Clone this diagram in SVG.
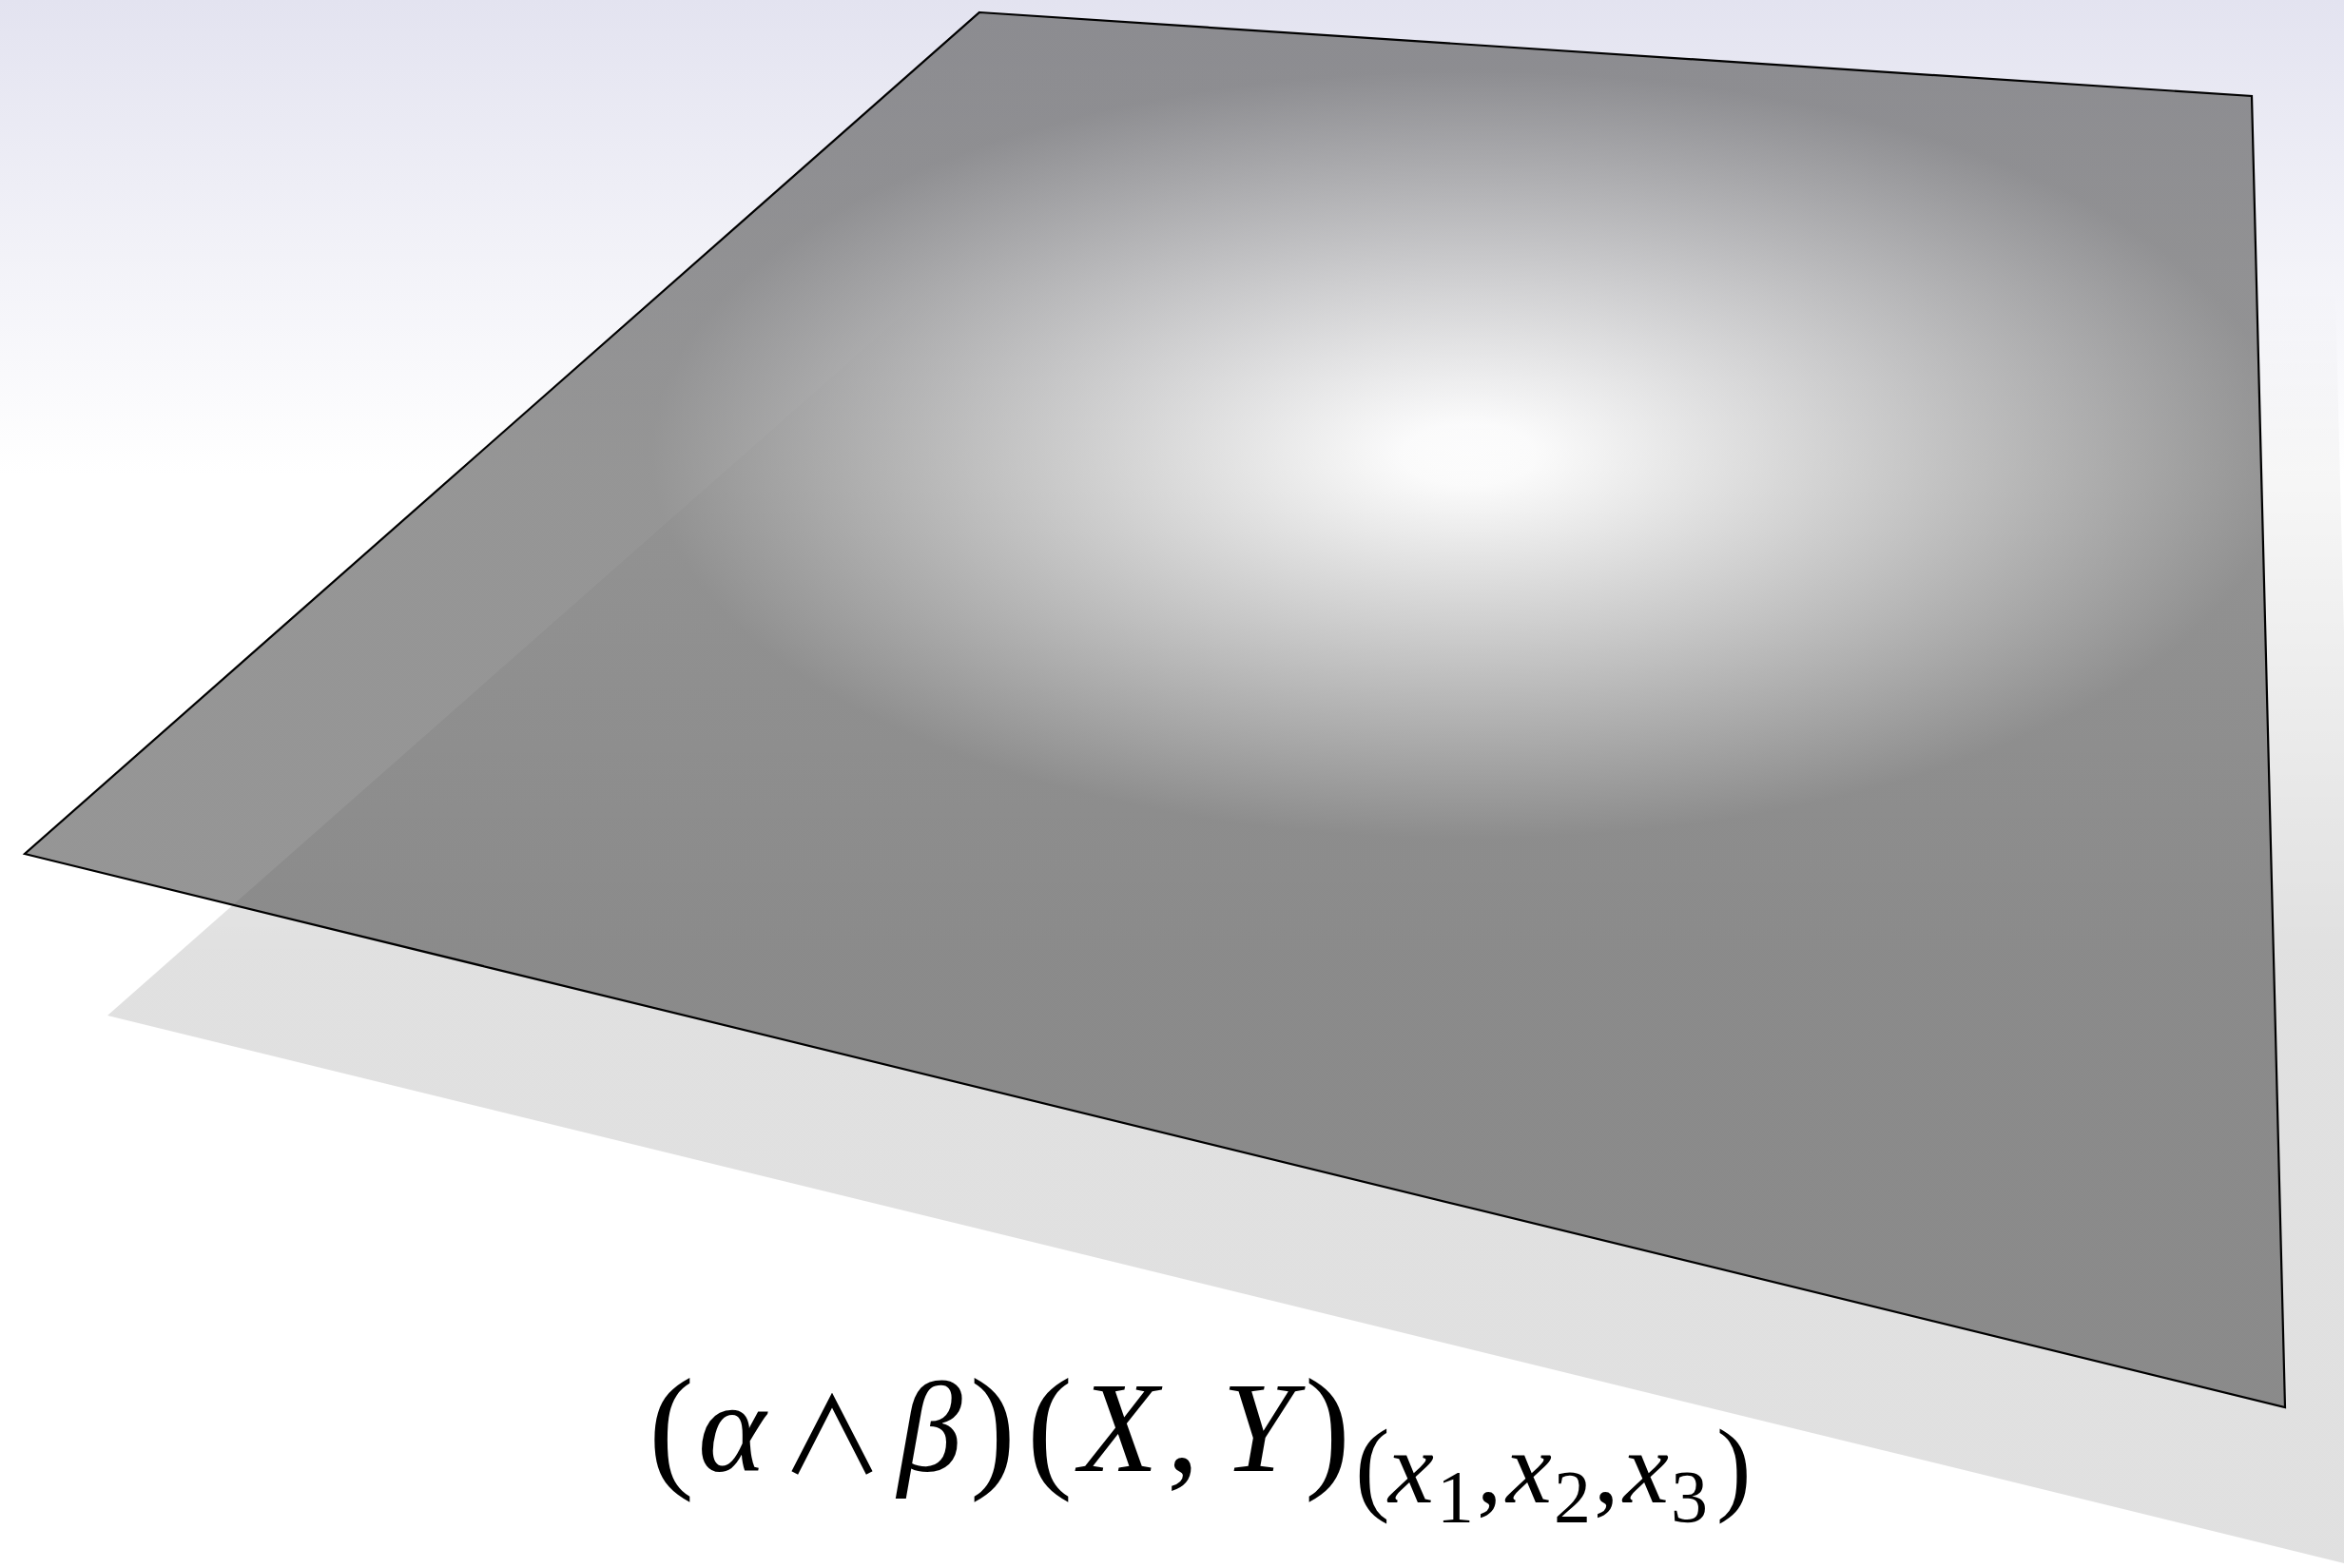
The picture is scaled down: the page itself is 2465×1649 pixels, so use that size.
<svg xmlns="http://www.w3.org/2000/svg" width="2465" height="1649" viewBox="0 0 2465 1649">
  <defs>
    <linearGradient id="bg" gradientUnits="userSpaceOnUse" x1="0" y1="0" x2="0" y2="500">
      <stop offset="0" stop-color="#e3e3f0"/>
      <stop offset="1" stop-color="#ffffff"/>
    </linearGradient>
    <linearGradient id="shadowGrad" gradientUnits="userSpaceOnUse" x1="0" y1="300" x2="0" y2="1000">
      <stop offset="0" stop-color="#000" stop-opacity="0"/>
      <stop offset="1" stop-color="#000" stop-opacity="0.12"/>
    </linearGradient>
    <radialGradient id="planeGrad" gradientUnits="userSpaceOnUse" cx="1545" cy="478" r="860" gradientTransform="translate(1545 478) scale(1 0.47) translate(-1545 -478)">
      <stop offset="0" stop-color="#ffffff"/>
      <stop offset="0.08" stop-color="#fdfdfd"/>
      <stop offset="1" stop-color="#5b5b5b"/>
    </radialGradient>
    <style>
      .math { font-family: "Liberation Serif", "DejaVu Serif", serif; fill: #000; }
      .it { font-style: italic; }
      .op { font-family: "Noto Sans CJK SC", "DejaVu Sans", sans-serif; }
    </style>
  </defs>

  <rect id="background" x="0" y="0" width="2465" height="1649" fill="url(#bg)"/>

  <g id="shadow">
    <polygon points="1117,183 2455,270 2490,1650 113,1068" fill="url(#shadowGrad)"/>
  </g>

  <g id="plane">
    <polygon points="1030,13 2368,101 2403,1480 26,898" fill="url(#planeGrad)" fill-opacity="0.645" stroke="#000" stroke-width="2.2" stroke-linejoin="miter"/>
  </g>

  <g id="label">
    <text class="math" x="682" y="1549" font-size="144">(</text>
    <text class="math it" x="734" y="1547" font-size="136">α</text>
    <text class="math op" x="820" y="1550" font-size="110">∧</text>
    <text class="math it" x="944" y="1547" font-size="136">β</text>
    <text class="math" x="1020" y="1549" font-size="144">)</text>
    <text class="math" x="1080" y="1549" font-size="144">(</text>
    <text class="math it" x="1135" y="1547" font-size="136">X</text>
    <text class="math" x="1227" y="1547" font-size="136">,</text>
    <text class="math it" x="1285" y="1547" font-size="136">Y</text>
    <text class="math" x="1372" y="1549" font-size="144">)</text>
    <text class="math" x="1425" y="1579" font-size="110">(</text>
    <text class="math it" x="1460" y="1580" font-size="108">x</text>
    <text class="math" x="1511" y="1600" font-size="78">1</text>
    <text class="math" x="1553" y="1580" font-size="106">,</text>
    <text class="math it" x="1584" y="1580" font-size="108">x</text>
    <text class="math" x="1634" y="1600" font-size="78">2</text>
    <text class="math" x="1676" y="1580" font-size="106">,</text>
    <text class="math it" x="1707" y="1580" font-size="108">x</text>
    <text class="math" x="1757" y="1600" font-size="78">3</text>
    <text class="math" x="1805" y="1579" font-size="110">)</text>
  </g>
</svg>
